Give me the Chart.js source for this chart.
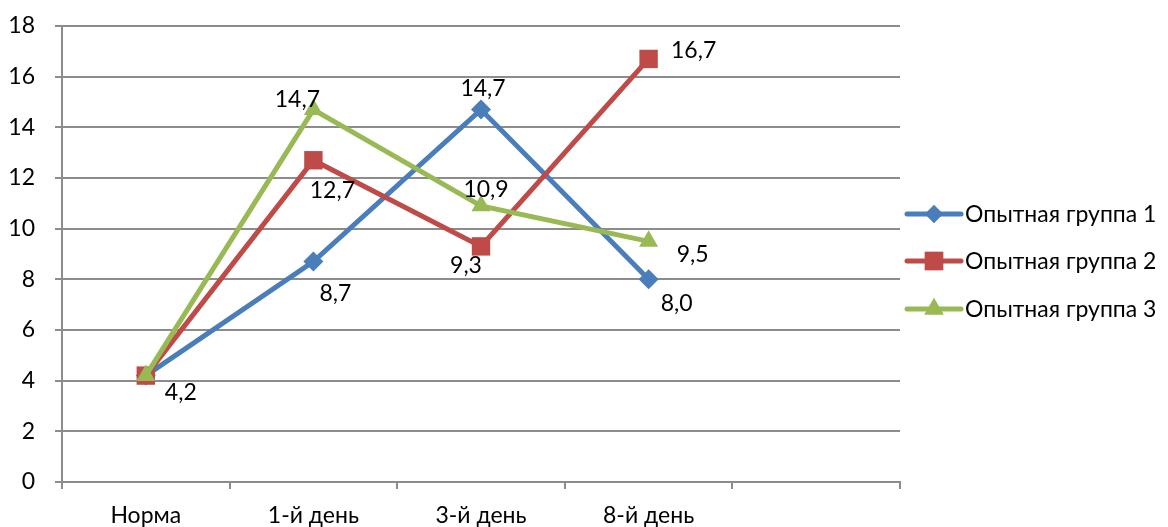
<!DOCTYPE html>
<html><head><meta charset="utf-8">
<script src="https://cdn.jsdelivr.net/npm/chart.js@4/dist/chart.umd.min.js"></script>
<style>html,body{margin:0;padding:0;background:#fff}#wrap{width:1168px;height:527px}</style>
</head><body><div id="wrap"><canvas id="c" width="1168" height="527"></canvas></div>
<script>
const categories = ['Норма', '1-й день', '3-й день', '8-й день', ''];
const group1 = [4.2, 8.7, 14.7, 8.0];
const group2 = [4.2, 12.7, 9.3, 16.7];
const group3 = [4.2, 14.7, 10.9, 9.5];
const seriesNames = ['Опытная группа 1', 'Опытная группа 2', 'Опытная группа 3'];
const yTicks = [0, 2, 4, 6, 8, 10, 12, 14, 16, 18];

const FONT = 'Lato, "Open Sans", sans-serif';
const FS = 23;
const colors = ['#4a7ebb', '#be4b48', '#98b954'];
// label offsets (style only) per series/point; null = hidden
const labelOffsets = [
  [[35, 17], [22, 32], [2, -21], [28, 24]],
  [null, [19, 30], [-15, 19], [45, -8]],
  [null, [-16, -10], [5, -16], [44, 13]]
];

const fmt = v => v.toFixed(1).replace('.', ',');

const labelPlugin = {
  id: 'labels',
  afterDatasetsDraw(chart) {
    const ctx = chart.ctx;
    ctx.save();
    ctx.font = FS + 'px ' + FONT;
    ctx.fillStyle = '#000';
    ctx.textAlign = 'center';
    ctx.textBaseline = 'middle';
    chart.data.datasets.forEach((ds, i) => {
      const meta = chart.getDatasetMeta(i);
      meta.data.forEach((pt, j) => {
        const off = labelOffsets[i][j];
        if (!off) return;
        ctx.fillText(fmt(ds.data[j]), pt.x + off[0], pt.y + off[1]);
      });
    });
    ctx.restore();
  }
};

const legendPlugin = {
  id: 'sideLegend',
  afterDraw(chart) {
    const ctx = chart.ctx;
    ctx.save();
    const x0 = chart.chartArea.right + 5;
    const ys = [214, 261, 309];
    const styles = ['rectRot', 'rect', 'triangle'];
    const radii = [9, 13, 11];
    chart.data.datasets.forEach((ds, i) => {
      const y = ys[i];
      ctx.strokeStyle = colors[i];
      ctx.lineWidth = 5;
      ctx.lineCap = 'round';
      ctx.beginPath(); ctx.moveTo(x0 + 2, y); ctx.lineTo(x0 + 56, y); ctx.stroke();
      ctx.fillStyle = colors[i];
      Chart.helpers.drawPoint(ctx, {pointStyle: styles[i], radius: radii[i], rotation: 0, borderWidth: 0}, x0 + 29, y);
      ctx.fill();
      ctx.fillStyle = '#000';
      ctx.font = FS + 'px ' + FONT;
      ctx.textAlign = 'left';
      ctx.textBaseline = 'middle';
      ctx.fillText(ds.label, x0 + 60, y + 1);
    });
    ctx.restore();
  }
};

const mk = (data, i, style, r) => ({
  label: seriesNames[i], data, order: 3 - i,
  borderColor: colors[i], backgroundColor: colors[i],
  borderWidth: 5, pointStyle: style, pointRadius: r, pointHoverRadius: r,
  pointBorderWidth: 0, tension: 0, fill: false
});

new Chart(document.getElementById('c'), {
  type: 'line',
  data: {
    labels: categories,
    datasets: [mk(group1, 0, 'rectRot', 10), mk(group2, 1, 'rect', 13), mk(group3, 2, 'triangle', 11)]
  },
  options: {
    responsive: false, animation: false, devicePixelRatio: 1,
    layout: {padding: {top: 26, right: 268, left: 0, bottom: 0}},
    plugins: {legend: {display: false}, tooltip: {enabled: false}},
    scales: {
      x: {
        offset: true,
        grid: {offset: true, drawOnChartArea: false, drawTicks: true, tickLength: 7, color: '#8c8c8c', lineWidth: 2},
        border: {color: '#8c8c8c', width: 2},
        ticks: {font: {family: FONT, size: FS}, color: '#000', padding: 13, maxRotation: 0},
        afterFit(s) { s.height = 45; s.paddingLeft = 0; s.paddingRight = 0; }
      },
      y: {
        min: 0, max: 18,
        afterBuildTicks(s) { s.ticks = yTicks.map(v => ({value: v})); },
        grid: {color: '#8c8c8c', lineWidth: 2, tickLength: 7},
        border: {color: '#8c8c8c', width: 2},
        ticks: {font: {family: FONT, size: FS}, color: '#000', padding: 20},
        afterFit(s) { s.width = 62; s.paddingTop = 0; s.paddingBottom = 0; }
      }
    }
  },
  plugins: [labelPlugin, legendPlugin]
});
</script></body></html>
